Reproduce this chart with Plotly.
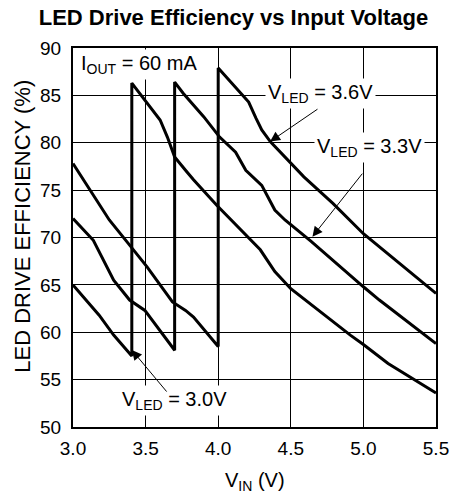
import plotly.graph_objects as go

# ---- data ----
vin_30 = [3.0, 3.18, 3.28, 3.34, 3.405, 3.405, 3.46, 3.54, 3.60, 3.65, 3.70, 3.775, 3.83, 3.99, 4.19, 4.29, 4.39, 4.50, 4.91, 5.0, 5.17, 5.5]
eff_30 = [65.0, 61.8, 59.7, 58.7, 57.5, 86.3, 85.2, 83.6, 82.4, 80.6, 78.5, 77.1, 76.1, 73.4, 70.3, 68.7, 66.4, 64.6, 59.7, 58.7, 56.7, 53.6]

vin_33 = [3.0, 3.14, 3.28, 3.39, 3.495, 3.70, 3.70, 3.76, 3.90, 4.01, 4.12, 4.19, 4.30, 4.39, 4.46, 4.64, 5.0, 5.11, 5.5]
eff_33 = [72.0, 69.7, 65.5, 63.4, 62.3, 58.1, 86.4, 85.2, 82.75, 80.6, 79.0, 77.1, 75.5, 72.9, 71.85, 69.6, 64.8, 63.4, 58.8]

vin_36 = [3.0, 3.18, 3.25, 3.39, 3.51, 3.685, 3.775, 3.83, 4.0, 4.0, 4.12, 4.21, 4.26, 4.30, 4.36, 4.59, 4.79, 5.0, 5.5]
eff_36 = [77.8, 73.6, 71.85, 69.2, 66.9, 63.2, 62.3, 61.6, 58.5, 87.9, 85.8, 84.3, 82.6, 81.35, 80.1, 76.4, 73.6, 70.4, 64.1]

x_ticks = [3.0, 3.5, 4.0, 4.5, 5.0, 5.5]
y_ticks = [50, 55, 60, 65, 70, 75, 80, 85, 90]

title_text = "<b>LED Drive Efficiency vs Input Voltage</b>"
x_title = "V<sub>IN</sub> (V)"
y_title = "LED DRIVE EFFICIENCY (%)"

FONT = "Liberation Sans, Arial, Helvetica, sans-serif"

fig = go.Figure()
for xs, ys in [(vin_30, eff_30), (vin_33, eff_33), (vin_36, eff_36)]:
    fig.add_trace(go.Scatter(x=xs, y=ys, mode="lines",
                             line=dict(color="black", width=3),
                             showlegend=False, hoverinfo="skip"))

# text labels with white background
labels = [
    ("I<sub>OUT</sub> = 60 mA", 3.457, 88.3),
    ("V<sub>LED</sub> = 3.6V", 4.707, 85.25),
    ("V<sub>LED</sub> = 3.3V", 5.041, 79.55),
    ("V<sub>LED</sub> = 3.0V", 3.70, 52.75),
]
for txt, x, y in labels:
    fig.add_annotation(x=x, y=y, xref="x", yref="y", text=txt, showarrow=False,
                       bgcolor="white", borderpad=2,
                       font=dict(family=FONT, size=20, color="black"),
                       xanchor="center", yanchor="middle")

# arrows (tip, tail)
arrows = [
    ((4.357, 80.12), (4.694, 83.65)),
    ((4.649, 70.09), (5.003, 76.94)),
    ((3.405, 58.13), (3.655, 53.55)),
]
for (tx, ty), (ax, ay) in arrows:
    fig.add_annotation(x=tx, y=ty, ax=ax, ay=ay, xref="x", yref="y",
                       axref="x", ayref="y", text=" ", showarrow=True,
                       arrowhead=2, arrowsize=2, arrowwidth=1,
                       arrowcolor="black", standoff=0, startstandoff=0,
                       font=dict(size=1))

# axis titles
fig.add_annotation(x=-0.1398, y=0.529, xref="paper", yref="paper", text=y_title,
                   textangle=-90, showarrow=False,
                   font=dict(family=FONT, size=22, color="black"),
                   xanchor="center", yanchor="middle")
fig.add_annotation(x=0.5, y=-0.145, xref="paper", yref="paper", text=x_title,
                   showarrow=False, font=dict(family=FONT, size=20, color="black"),
                   xanchor="center", yanchor="middle")

fig.update_layout(
    width=461, height=497,
    margin=dict(l=73, r=16, t=48, b=70),
    paper_bgcolor="white", plot_bgcolor="white",
    title=dict(text=title_text, x=0.5065, xref="container", xanchor="center",
               y=1 - 17 / 497, yref="container", yanchor="middle",
               font=dict(family=FONT, size=22, color="black")),
    font=dict(family=FONT, color="black"),
)
fig.update_xaxes(range=[3.0, 5.5], tickvals=x_ticks,
                 ticktext=[f"{v:.1f}" for v in x_ticks],
                 showgrid=True, gridcolor="black", gridwidth=1,
                 showline=True, mirror=True, linecolor="black", linewidth=2,
                 ticks="outside", ticklen=3, tickcolor="rgba(0,0,0,0)",
                 tickfont=dict(family=FONT, size=19, color="black"),
                 zeroline=False, fixedrange=True)
fig.update_yaxes(range=[50, 90], tickvals=y_ticks,
                 showgrid=True, gridcolor="black", gridwidth=1,
                 showline=True, mirror=True, linecolor="black", linewidth=2,
                 ticks="outside", ticklen=6, tickcolor="rgba(0,0,0,0)",
                 tickfont=dict(family=FONT, size=19, color="black"),
                 zeroline=False, fixedrange=True)

fig.write_html("out.html", config={"displayModeBar": False},
               post_script="document.body.style.margin='0';document.body.style.overflow='hidden';")
